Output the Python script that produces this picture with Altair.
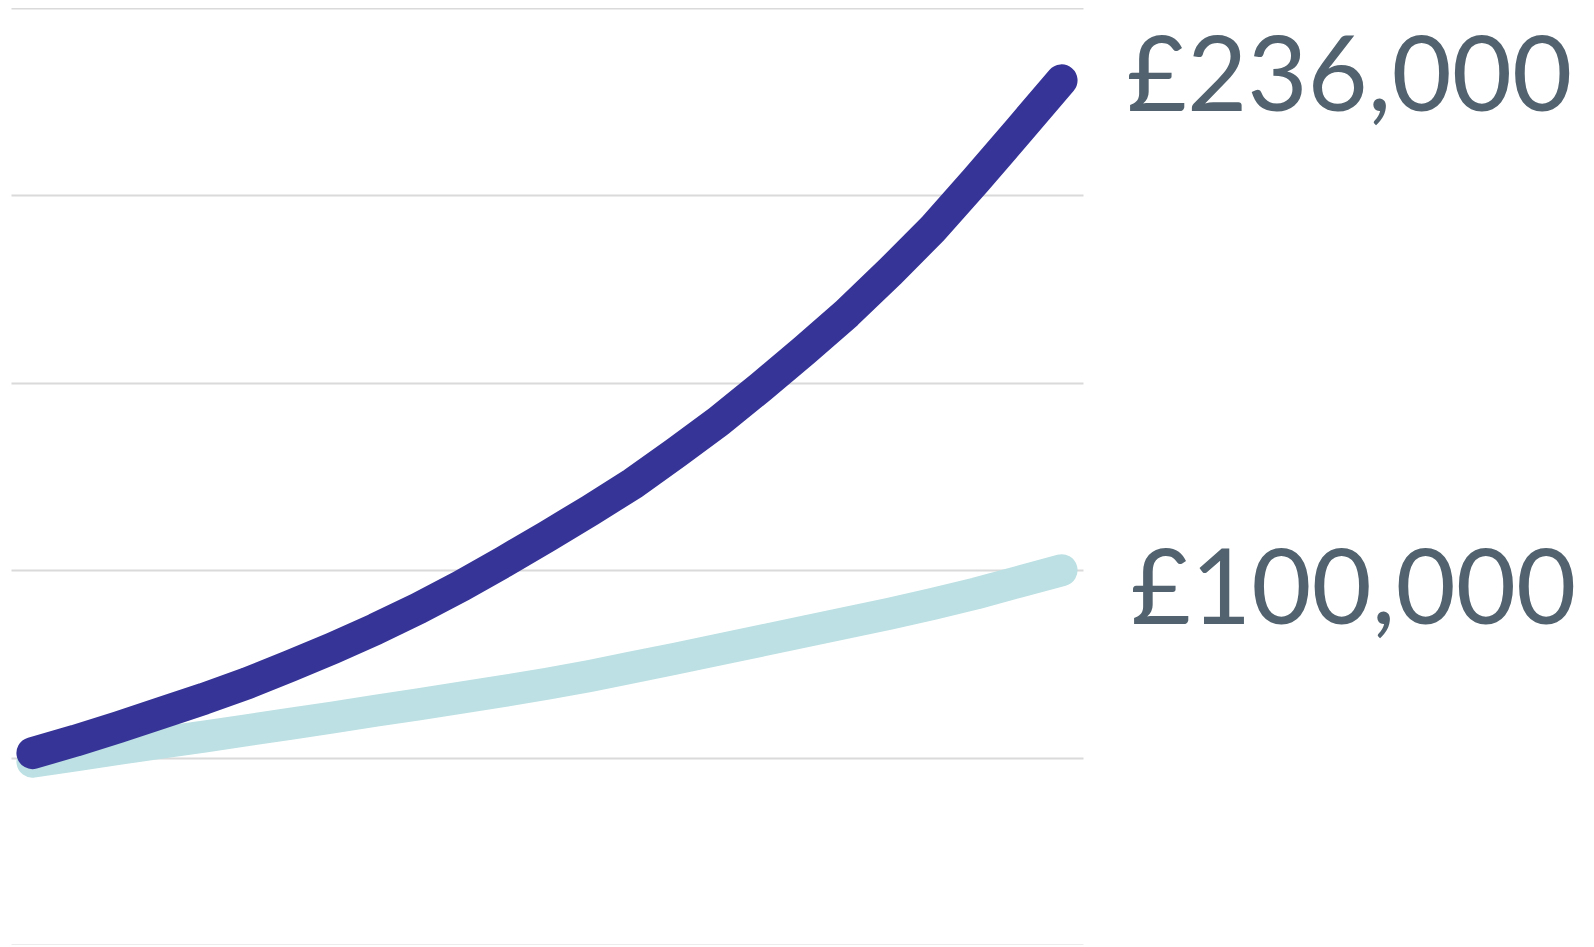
import altair as alt
import pandas as pd

# Values in thousands of pounds (year 0 .. 24)
years = list(range(25))
invested = [51.2, 54.5, 58.1, 61.9, 65.7, 69.8, 74.4, 79.2, 84.3, 89.8, 95.8, 102.3,
            109.0, 115.9, 123.1, 131.3, 139.7, 149.0, 158.6, 168.6, 179.6, 191.1,
            204.0, 217.3, 230.7]
savings = [48.9, 50.6, 52.3, 54.0, 55.6, 57.3, 59.0, 60.7, 62.5, 64.2, 66.0, 67.8,
           69.7, 71.8, 74.1, 76.4, 78.8, 81.2, 83.6, 86.0, 88.4, 91.0, 93.8, 96.9,
           100.0]
series_names = ["Invested", "Savings"]
series_colors = ["#363497", "#bce0e3"]
end_labels = ["£236,000", "£100,000"]
grid_values = [0, 50, 100, 150, 200, 250]

rows = []
for name, vals in zip(series_names, [invested, savings]):
    for yr, v in zip(years, vals):
        rows.append({"series": name, "year": yr, "value": v})
df = pd.DataFrame(rows)

labels_df = pd.DataFrame({
    "series": series_names,
    "year": [years[-1], years[-1]],
    "value": [invested[-1], savings[-1]],
    "label": end_labels,
})

x_enc = alt.X("year:Q", scale=alt.Scale(domain=[-0.5, 24.5], nice=False, zero=False), axis=None)
y_enc = alt.Y(
    "value:Q",
    scale=alt.Scale(domain=[0, 250], nice=False, zero=True),
    axis=alt.Axis(values=grid_values, grid=True, labels=False, ticks=False,
                  domain=False, title=None, gridColor="#dadada", gridWidth=2),
)
color_enc = alt.Color("series:N", scale=alt.Scale(domain=series_names, range=series_colors), legend=None)

base = alt.Chart(df).encode(x=x_enc, y=y_enc, color=color_enc)

line_light = base.transform_filter(alt.datum.series == "Savings").mark_line(
    strokeWidth=32, strokeCap="round", strokeJoin="round")
line_dark = base.transform_filter(alt.datum.series == "Invested").mark_line(
    strokeWidth=32, strokeCap="round", strokeJoin="round")

lab_base = alt.Chart(labels_df).encode(x=x_enc, y=y_enc, text="label:N")
lab_top = lab_base.transform_filter(alt.datum.series == "Invested").mark_text(
    align="left", baseline="alphabetic", dx=65, dy=31, font="Lato", fontSize=104,
    color="#52636f")
lab_bot = lab_base.transform_filter(alt.datum.series == "Savings").mark_text(
    align="left", baseline="alphabetic", dx=69, dy=54, font="Lato", fontSize=104,
    color="#52636f")

chart = alt.layer(line_light, line_dark, lab_top, lab_bot).properties(
    width=1072, height=937,
    background="white",
    padding={"left": 3, "top": 0, "right": 0, "bottom": 0},
).configure_view(strokeWidth=0, stroke=None)

chart.save("out.html", embed_options={"renderer": "svg", "actions": False})
